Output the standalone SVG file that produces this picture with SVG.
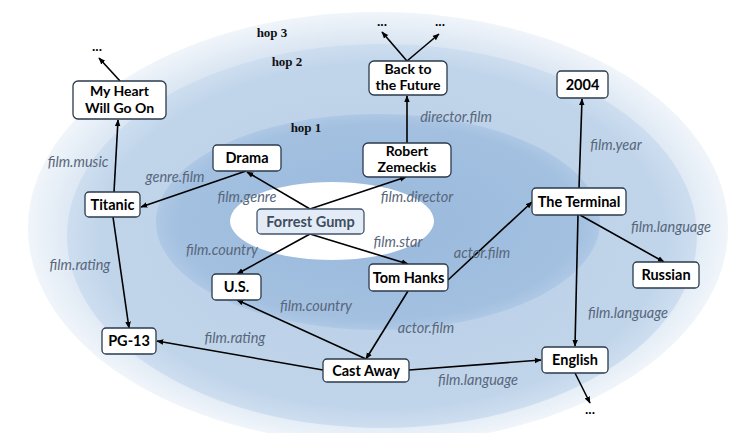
<svg xmlns="http://www.w3.org/2000/svg" width="732" height="433" viewBox="0 0 732 433">
<defs>
<radialGradient id="g3" cx="0.5" cy="0.5" r="0.5">
<stop offset="0" stop-color="#d4e2f1"/><stop offset="0.85" stop-color="#d9e5f2"/><stop offset="1" stop-color="#f0f5fa"/>
</radialGradient>
<radialGradient id="g2" cx="0.5" cy="0.5" r="0.5">
<stop offset="0" stop-color="#b7cee6"/><stop offset="0.9" stop-color="#c1d5ea"/><stop offset="1" stop-color="#cedef0"/>
</radialGradient>
<radialGradient id="g1" cx="0.5" cy="0.5" r="0.5">
<stop offset="0" stop-color="#99b9dc"/><stop offset="0.9" stop-color="#a3c0e0"/><stop offset="1" stop-color="#aec8e5"/>
</radialGradient>
<marker id="ah" viewBox="0 0 10 10" refX="9" refY="5" markerWidth="7" markerHeight="7" orient="auto" markerUnits="userSpaceOnUse">
<path d="M0,1 L10,5 L0,9 z" fill="#000"/>
</marker>
<style>
.n rect{fill:#fff;stroke:#2b3a4e;stroke-width:1.3}
.n text{font-family:Lato,"Liberation Sans",sans-serif;font-weight:bold;font-size:14.5px;fill:#000;text-anchor:middle}
.n text.t{font-size:14px}
.e line{stroke:#000;stroke-width:1.6;marker-end:url(#ah)}
.l{font-family:Lato,"Liberation Sans",sans-serif;font-style:italic;font-size:14.5px;fill:#58677b;text-anchor:middle}
.h{font-family:"Liberation Serif",serif;font-weight:bold;font-size:13px;fill:#111;text-anchor:middle}
.d{font-family:"Liberation Sans",sans-serif;font-weight:bold;font-size:12px;fill:#000;text-anchor:middle}
</style>
</defs>
<rect width="732" height="433" fill="#fff"/>
<g id="rings">
<ellipse cx="378" cy="228" rx="350" ry="216" fill="url(#g3)"/>
<ellipse cx="382" cy="236" rx="315" ry="192" fill="url(#g2)"/>
<ellipse cx="378" cy="222" rx="222" ry="108" fill="url(#g1)"/>
<ellipse cx="332" cy="221" rx="102" ry="39" fill="#fff"/>
</g>
<g id="hops">
<text class="h" x="272" y="37">hop 3</text>
<text class="h" x="287" y="66">hop 2</text>
<text class="h" x="306" y="132">hop 1</text>
</g>
<g id="connectors">
<g class="e">
<line x1="114" y1="192" x2="118" y2="120"/>
<line x1="120" y1="81" x2="99" y2="58"/>
<line x1="246" y1="171" x2="141" y2="207"/>
<line x1="310" y1="209" x2="247" y2="172"/>
<line x1="310" y1="209" x2="406" y2="177"/>
<line x1="407" y1="143" x2="407" y2="96"/>
<line x1="407" y1="61" x2="382" y2="32"/>
<line x1="407" y1="61" x2="439" y2="34"/>
<line x1="310" y1="234" x2="237" y2="274"/>
<line x1="310" y1="234" x2="408" y2="264"/>
<line x1="448" y1="280" x2="532" y2="202"/>
<line x1="408" y1="291" x2="366" y2="359"/>
<line x1="366" y1="359" x2="237" y2="300"/>
<line x1="323" y1="370" x2="157" y2="341"/>
<line x1="113" y1="217" x2="129" y2="328"/>
<line x1="409" y1="370" x2="541" y2="360"/>
<line x1="579" y1="188" x2="582" y2="99"/>
<line x1="580" y1="215" x2="664" y2="262"/>
<line x1="578" y1="215" x2="575" y2="346"/>
<line x1="575" y1="373" x2="590" y2="403"/>
</g>
<text class="l" x="78" y="167">film.music</text>
<text class="l" x="175" y="182">genre.film</text>
<text class="l" x="247" y="202">film.genre</text>
<text class="l" x="417" y="202">film.director</text>
<text class="l" x="456" y="122">director.film</text>
<text class="l" x="222" y="255">film.country</text>
<text class="l" x="398" y="247">film.star</text>
<text class="l" x="482" y="258">actor.film</text>
<text class="l" x="426" y="333">actor.film</text>
<text class="l" x="316" y="311">film.country</text>
<text class="l" x="235" y="343">film.rating</text>
<text class="l" x="80" y="270">film.rating</text>
<text class="l" x="478" y="385">film.language</text>
<text class="l" x="616" y="150">film.year</text>
<text class="l" x="671" y="232">film.language</text>
<text class="l" x="628" y="318">film.language</text>
</g>
<g id="dots">
<text class="d" x="97" y="51">...</text>
<text class="d" x="382" y="26">...</text>
<text class="d" x="440" y="26">...</text>
<text class="d" x="590" y="414">...</text>
</g>
<g id="n-heart" class="n"><rect x="73" y="81" width="93" height="38" rx="5"/><text class="t" x="119.5" y="96">My Heart</text><text class="t" x="119.5" y="113">Will Go On</text></g>
<g id="n-titanic" class="n"><rect x="85" y="192" width="55" height="25" rx="4"/><text x="112.5" y="210">Titanic</text></g>
<g id="n-drama" class="n"><rect x="213" y="145" width="68" height="26" rx="4"/><text x="247" y="163">Drama</text></g>
<g id="n-zemeckis" class="n"><rect x="363" y="143" width="88" height="34" rx="5"/><text class="t" x="407" y="156">Robert</text><text class="t" x="407" y="172">Zemeckis</text></g>
<g id="n-bttf" class="n"><rect x="369" y="61" width="78" height="34" rx="5"/><text class="t" x="408" y="74">Back to</text><text class="t" x="408" y="90">the Future</text></g>
<g id="n-2004" class="n"><rect x="557" y="71" width="51" height="27" rx="4"/><text x="582.5" y="90">2004</text></g>
<g id="n-terminal" class="n"><rect x="532" y="188" width="94" height="27" rx="4"/><text x="579" y="207">The Terminal</text></g>
<g id="n-gump" class="n"><rect x="257" y="209" width="107" height="25" rx="4" style="fill:#e3ecf6;stroke:#44566c"/><text x="310.5" y="227" style="fill:#3e4d60">Forrest Gump</text></g>
<g id="n-us" class="n"><rect x="212" y="274" width="49" height="26" rx="4"/><text x="236.5" y="292">U.S.</text></g>
<g id="n-hanks" class="n"><rect x="369" y="264" width="79" height="27" rx="4"/><text x="408.5" y="283">Tom Hanks</text></g>
<g id="n-russian" class="n"><rect x="633" y="262" width="66" height="26" rx="4"/><text x="666" y="280">Russian</text></g>
<g id="n-english" class="n"><rect x="542" y="347" width="66" height="26" rx="4"/><text x="575" y="365">English</text></g>
<g id="n-pg13" class="n"><rect x="102" y="328" width="54" height="26" rx="4"/><text x="129" y="346">PG-13</text></g>
<g id="n-castaway" class="n"><rect x="323" y="359" width="86" height="23" rx="4"/><text x="366" y="376">Cast Away</text></g>
</svg>
